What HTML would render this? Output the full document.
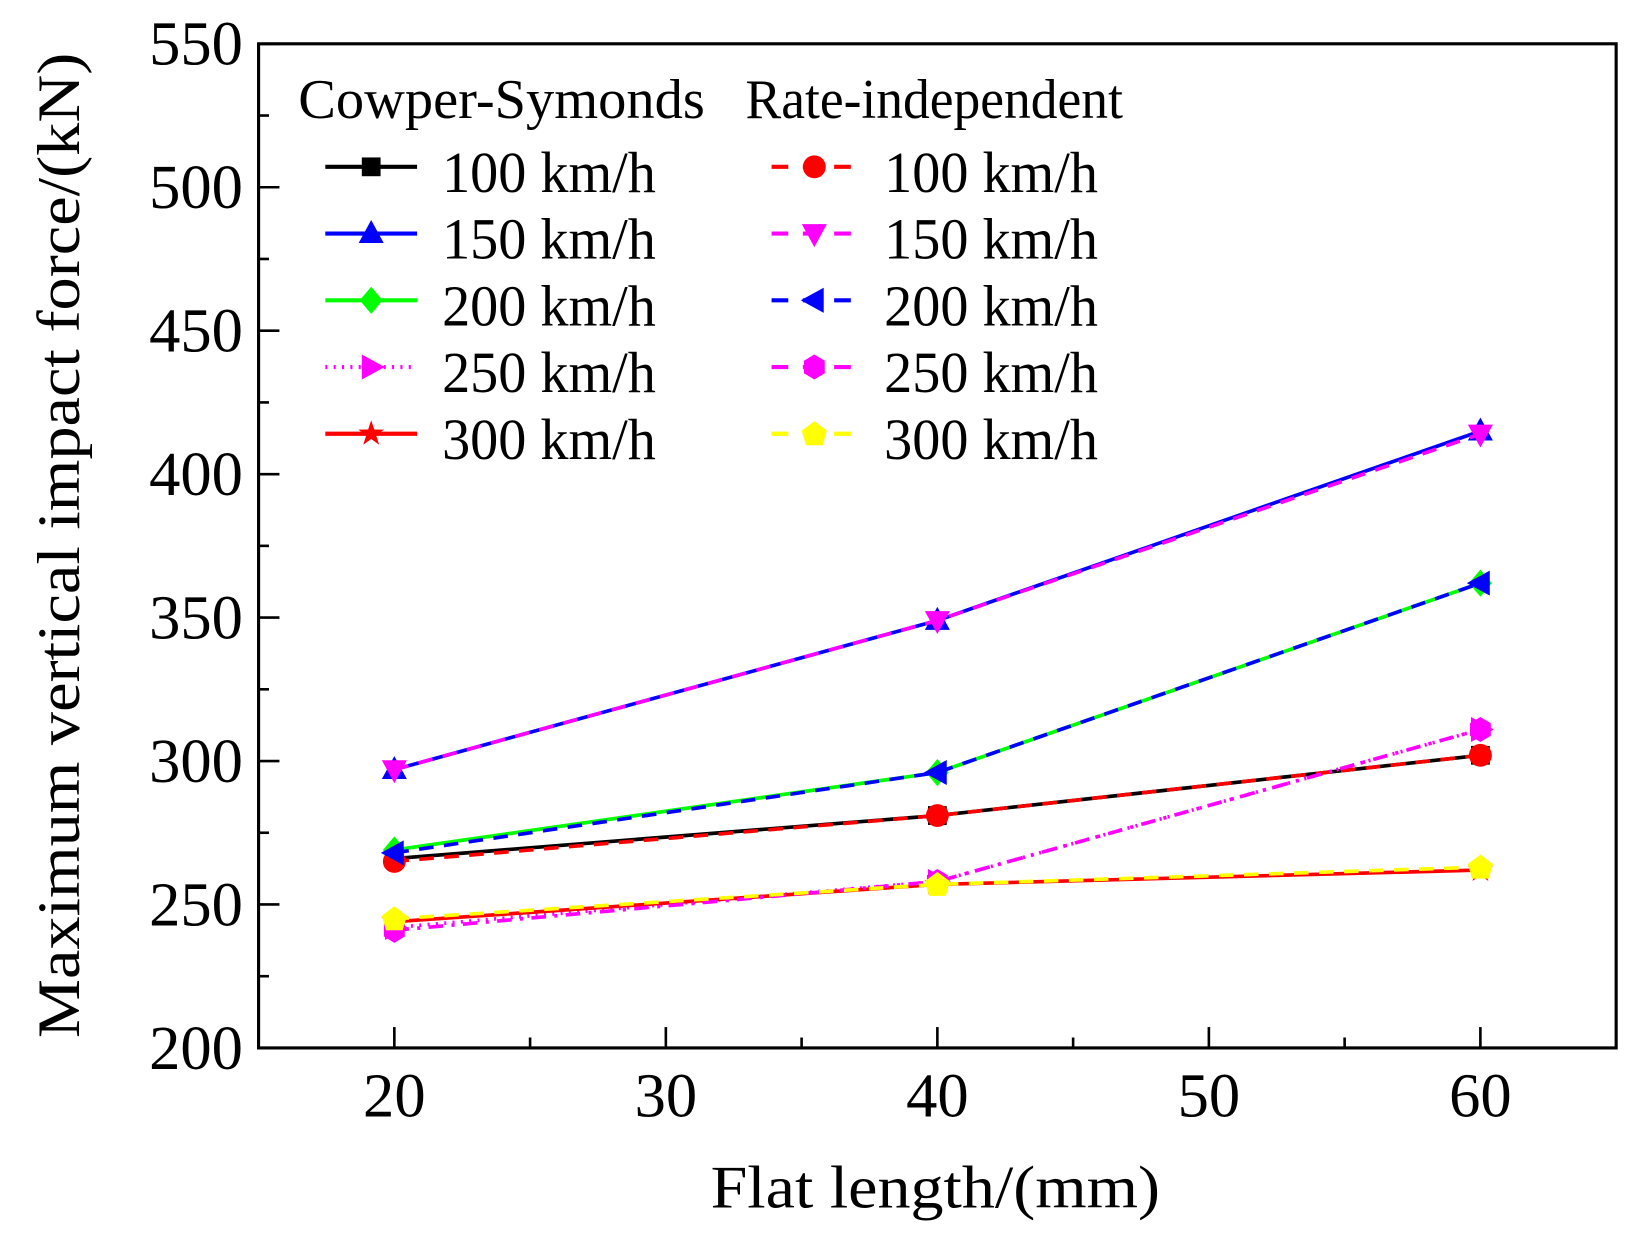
<!DOCTYPE html>
<html><head><meta charset="utf-8"><style>
html,body{margin:0;padding:0;background:#fff;}
svg{display:block;font-family:"Liberation Serif",serif;}
</style></head><body>
<svg id="chart" width="1637" height="1245" viewBox="0 0 1570 1194" preserveAspectRatio="none" xmlns="http://www.w3.org/2000/svg"></svg>
<script>
const xCats = [20, 40, 60];
const xTicks = [20, 30, 40, 50, 60];
const yTicks = [200, 250, 300, 350, 400, 450, 500, 550];
const cs100 = [266, 281, 302];
const cs150 = [297, 349, 415];
const cs200 = [269, 296, 362];
const cs250 = [242, 258, 311];
const cs300 = [244, 257, 262];
const ri100 = [265, 281, 302];
const ri150 = [297, 349, 414];
const ri200 = [268, 296, 362];
const ri250 = [241, 258, 311];
const ri300 = [245, 257, 263];
const seriesNames = ["100 km/h","150 km/h","200 km/h","250 km/h","300 km/h"];

const L=248,R=1550,T=42,B=1005;
const X0=15,X1=65,Y0=200,Y1=550;
const sx=v=>L+(v-X0)/(X1-X0)*(R-L);
const sy=v=>B-(v-Y0)/(Y1-Y0)*(B-T);
const svg=document.getElementById('chart');
const NS="http://www.w3.org/2000/svg";
function mk(tag,attrs,parent){const e=document.createElementNS(NS,tag);for(const k in attrs)e.setAttribute(k,attrs[k]);(parent||svg).appendChild(e);return e;}

// ticks
xTicks.forEach((v,i)=>{
  const t=mk('line',{x1:sx(v),x2:sx(v),y1:B,y2:B-20,stroke:'#000','stroke-width':2.5});
  
  
  const lb=mk('text',{x:sx(v),y:B+66,'font-size':60,'text-anchor':'middle'});
  lb.textContent=v;
  
  
  if(i<xTicks.length-1){const m=(v+xTicks[i+1])/2;
    const mt=mk('line',{x1:sx(m),x2:sx(m),y1:B,y2:B-10,stroke:'#000','stroke-width':2.5});
    
    }
});
yTicks.forEach((v,i)=>{
  const t=mk('line',{x1:L,x2:L+20,y1:sy(v),y2:sy(v),stroke:'#000','stroke-width':2.5});
  
  
  const lb=mk('text',{x:233,y:sy(v)+20,'font-size':60,'text-anchor':'end'});
  lb.textContent=v;
  
  
  if(i<yTicks.length-1){const m=(v+yTicks[i+1])/2;
    const mt=mk('line',{x1:L,x2:L+10,y1:sy(m),y2:sy(m),stroke:'#000','stroke-width':2.5});
    
    }
});
const frame=mk('rect',{x:L,y:T,width:R-L,height:B-T,fill:'none',stroke:'#000','stroke-width':3});



const xt=mk('text',{x:897,y:1158,'font-size':58,'text-anchor':'middle',textLength:431,lengthAdjust:'spacingAndGlyphs'});
xt.textContent='Flat length/(mm)';


const yt=mk('text',{x:0,y:0,'font-size':58,'text-anchor':'middle',textLength:945,lengthAdjust:'spacingAndGlyphs',transform:'translate(76,523) rotate(-90)'});
yt.textContent='Maximum vertical impact force/(kN)';



function marker(shape,x,y,color,g){
  const s=11;let pts;
  const poly=a=>mk('polygon',{points:a.map(p=>(x+p[0])+','+(y+p[1])).join(' '),fill:color},g);
  switch(shape){
    case 'square': return mk('rect',{x:x-9,y:y-9,width:18,height:18,fill:color},g);
    case 'circle': return mk('circle',{cx:x,cy:y,r:11,fill:color},g);
    case 'up': return poly([[0,-13],[12,9],[-12,9]]);
    case 'down': return poly([[0,13],[12,-9],[-12,-9]]);
    case 'left': return poly([[-13,0],[9,-12],[9,12]]);
    case 'right': return poly([[13,0],[-9,-12],[-9,12]]);
    case 'diamond': return poly([[0,-13],[11,0],[0,13],[-11,0]]);
    case 'hex': return poly([[0,-12],[10,-6],[10,6],[0,12],[-10,6],[-10,-6]]);
    case 'pent': return poly([[0,-12],[12,-3],[8,11],[-8,11],[-12,-3]]);
    case 'star': pts=[];for(let k=0;k<10;k++){const a=-Math.PI/2+k*Math.PI/5,r=k%2?5:13;pts.push([r*Math.cos(a),r*Math.sin(a)]);}return poly(pts);
  }
}
const csData=[cs100,cs150,cs200,cs250,cs300];
const riData=[ri100,ri150,ri200,ri250,ri300];
const csCol=['#000','#0000ff','#00ff00','#ff00ff','#ff0000'];
const riCol=['#ff0000','#ff00ff','#0000ff','#ff00ff','#ffff00'];
const csShape=['square','up','diamond','right','star'];
const riShape=['circle','down','left','hex','pent'];
const csDash=['none','none','none','2 6','none'];
const riDash=['14 10','14 10','14 10','14 8 3 8','14 10'];

function drawSeries(data,col,shape,dash,name){
  const g=mk('g',{});
  
  
  const p=mk('polyline',{points:data.map((v,i)=>sx(xCats[i])+','+sy(v)).join(' '),fill:'none',stroke:col,'stroke-width':3.5,'stroke-dasharray':dash},g);
  data.forEach((v,i)=>marker(shape,sx(xCats[i]),sy(v),col,g));
}
csData.forEach((d,i)=>drawSeries(d,csCol[i],csShape[i],csDash[i],'cs-series-'+(100+50*i)));
riData.forEach((d,i)=>drawSeries(d,riCol[i],riShape[i],riDash[i],'ri-series-'+(100+50*i)));

// legend
const lg=mk('g',{});


const h1=mk('text',{x:286,y:113,'font-size':54,textLength:390,lengthAdjust:'spacingAndGlyphs'},lg);
h1.textContent='Cowper-Symonds';


const h2=mk('text',{x:715,y:113,'font-size':54,textLength:362,lengthAdjust:'spacingAndGlyphs'},lg);
h2.textContent='Rate-independent';


seriesNames.forEach((nm,i)=>{
  const y=160+64*i;
  const e1=mk('g',{},lg);
  
  
  mk('line',{x1:312,x2:400,y1:y,y2:y,stroke:csCol[i],'stroke-width':4,'stroke-dasharray':csDash[i]},e1);
  marker(csShape[i],356,y,csCol[i],e1);
  const t1=mk('text',{x:424,y:y+24,'font-size':56,textLength:205,lengthAdjust:'spacingAndGlyphs'},e1);
  t1.textContent=nm;
  const e2=mk('g',{},lg);
  
  
  mk('line',{x1:740,x2:822,y1:y,y2:y,stroke:riCol[i],'stroke-width':4,'stroke-dasharray':'16 14'},e2);
  marker(riShape[i],781,y,riCol[i],e2);
  const t2=mk('text',{x:848,y:y+24,'font-size':56,textLength:205,lengthAdjust:'spacingAndGlyphs'},e2);
  t2.textContent=nm;
});
</script>
</body></html>
